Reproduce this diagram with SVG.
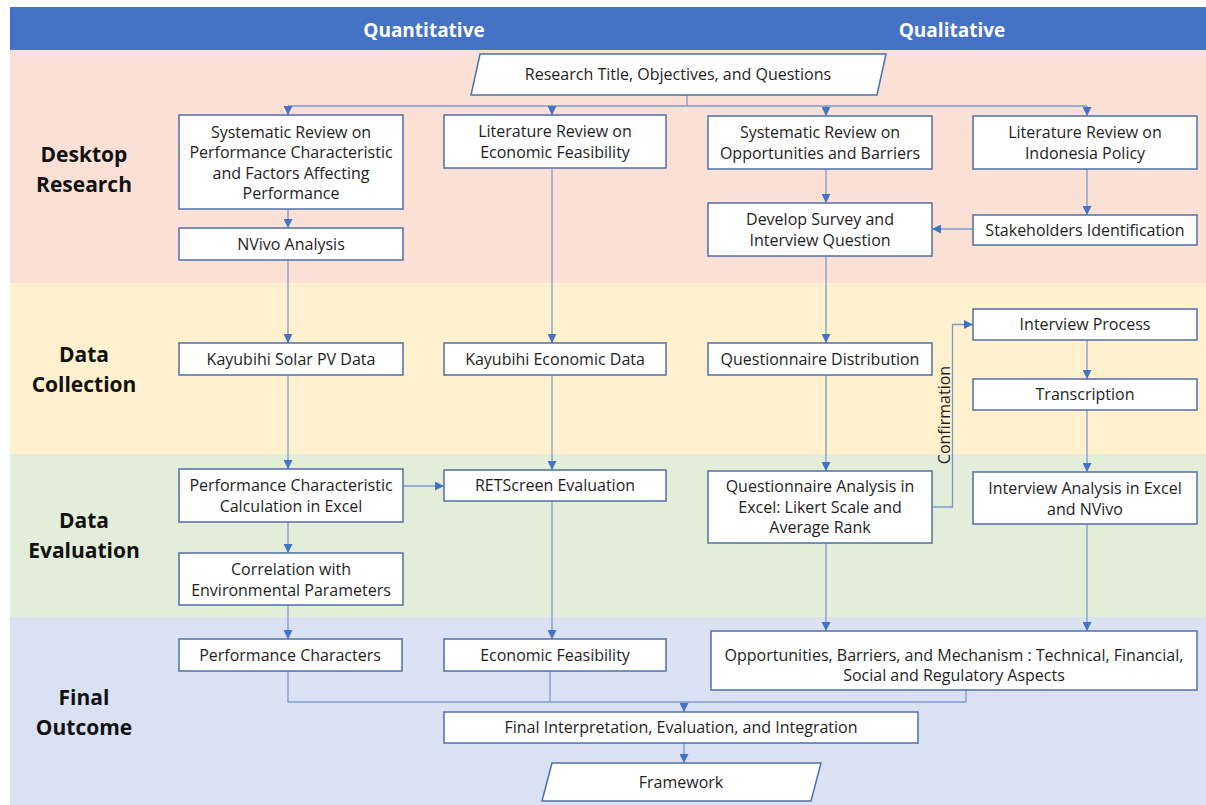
<svg xmlns="http://www.w3.org/2000/svg" width="1206" height="805" viewBox="0 0 1206 805">
  <style>
    .box { fill: #ffffff; stroke: #4f6fa9; stroke-width: 1.5; }
    .t { font-family: "Open Sans", "Noto Sans", sans-serif; font-size: 16px; fill: #1e1e1e; text-anchor: middle; }
    .hdr { font-family: "Open Sans", "Noto Sans", sans-serif; font-size: 19px; font-weight: bold; fill: #ffffff; text-anchor: middle; }
    .lbl { font-family: "Open Sans", "Noto Sans", sans-serif; font-size: 21px; font-weight: bold; fill: #111111; text-anchor: middle; }
    .ln { fill: none; stroke: #7d99cc; stroke-width: 1.3; }
    .arr { marker-end: url(#ah); }
  </style>
  <defs>
    <marker id="ah" viewBox="0 0 8 8" refX="8" refY="4" markerWidth="9" markerHeight="9" orient="auto" markerUnits="userSpaceOnUse">
      <path d="M0,0 L8,4 L0,8 z" fill="#4472c4"/>
    </marker>
  </defs>

  <!-- background bands -->
  <g id="bands">
    <rect x="0" y="0" width="1206" height="805" fill="#ffffff"/>
    <rect x="10" y="50" width="1196" height="233" fill="#fbe1d5"/>
    <rect x="10" y="283" width="1196" height="171" fill="#fff1cd"/>
    <rect x="10" y="454" width="1196" height="163" fill="#e2eed9"/>
    <rect x="10" y="617" width="1196" height="188" fill="#d9e1f3"/>
    <rect x="10" y="7" width="1196" height="43" fill="#4472c4"/>
    <text class="hdr" x="424" y="37">Quantitative</text>
    <text class="hdr" x="952" y="37">Qualitative</text>
  </g>

  <!-- stage labels -->
  <g id="labels">
    <text class="lbl" x="84" y="162">Desktop</text>
    <text class="lbl" x="84" y="192">Research</text>
    <text class="lbl" x="84" y="362">Data</text>
    <text class="lbl" x="84" y="392">Collection</text>
    <text class="lbl" x="84" y="528">Data</text>
    <text class="lbl" x="84" y="558">Evaluation</text>
    <text class="lbl" x="84" y="705">Final</text>
    <text class="lbl" x="84" y="735">Outcome</text>
  </g>

  <!-- connectors -->
  <g id="connectors">
    <path class="ln" d="M687,95 V106 M288,106 H1087"/>
    <path class="ln arr" d="M288,106 V115"/>
    <path class="ln arr" d="M552,106 V115"/>
    <path class="ln arr" d="M826,106 V116"/>
    <path class="ln arr" d="M1087,106 V116"/>
    <path class="ln arr" d="M288,209 V228"/>
    <path class="ln arr" d="M826,169 V203"/>
    <path class="ln arr" d="M1087,169 V215"/>
    <path class="ln arr" d="M973,229 H932"/>
    <path class="ln arr" d="M288,260 V343"/>
    <path class="ln arr" d="M552,168 V343"/>
    <path class="ln arr" d="M826,256 V343"/>
    <path class="ln arr" d="M1087,340 V379"/>
    <path class="ln arr" d="M288,375 V469"/>
    <path class="ln arr" d="M552,375 V470"/>
    <path class="ln arr" d="M826,375 V471"/>
    <path class="ln arr" d="M1087,410 V472"/>
    <path class="ln arr" d="M403,486 H444"/>
    <path class="ln arr" d="M932,507 H952.5 V324.5 H973"/>
    <text class="t" transform="translate(950,415) rotate(-90)" x="0" y="0">Confirmation</text>
    <path class="ln arr" d="M288,522 V553"/>
    <path class="ln arr" d="M288,605 V639"/>
    <path class="ln arr" d="M552,501 V639"/>
    <path class="ln arr" d="M826,543 V631"/>
    <path class="ln arr" d="M1087,524 V631"/>
    <path class="ln" d="M288,671 V702 H966 V690 M550,671 V702"/>
    <path class="ln arr" d="M684,702 V712"/>
    <path class="ln arr" d="M684,743 V763"/>
  </g>

  <!-- nodes -->
  <g id="n-title">
    <polygon class="box" points="480,54 886,54 877,95 471,95"/>
    <text class="t" x="678" y="80">Research Title, Objectives, and Questions</text>
  </g>
  <g id="n-sr-performance">
    <rect class="box" x="179" y="115" width="224" height="94"/>
    <text class="t" x="291" y="138">Systematic Review on</text>
    <text class="t" x="291" y="158">Performance Characteristic</text>
    <text class="t" x="291" y="179">and Factors Affecting</text>
    <text class="t" x="291" y="199">Performance</text>
  </g>
  <g id="n-lr-economic">
    <rect class="box" x="444" y="115" width="222" height="53"/>
    <text class="t" x="555" y="137">Literature Review on</text>
    <text class="t" x="555" y="158">Economic Feasibility</text>
  </g>
  <g id="n-sr-opportunities">
    <rect class="box" x="708" y="116" width="224" height="53"/>
    <text class="t" x="820" y="138">Systematic Review on</text>
    <text class="t" x="820" y="159">Opportunities and Barriers</text>
  </g>
  <g id="n-lr-policy">
    <rect class="box" x="973" y="116" width="224" height="53"/>
    <text class="t" x="1085" y="138">Literature Review on</text>
    <text class="t" x="1085" y="159">Indonesia Policy</text>
  </g>
  <g id="n-nvivo">
    <rect class="box" x="179" y="228" width="224" height="32"/>
    <text class="t" x="291" y="250">NVivo Analysis</text>
  </g>
  <g id="n-develop">
    <rect class="box" x="708" y="203" width="224" height="53"/>
    <text class="t" x="820" y="225">Develop Survey and</text>
    <text class="t" x="820" y="246">Interview Question</text>
  </g>
  <g id="n-stakeholders">
    <rect class="box" x="973" y="215" width="224" height="30"/>
    <text class="t" x="1085" y="236">Stakeholders Identification</text>
  </g>
  <g id="n-pv-data">
    <rect class="box" x="179" y="343" width="224" height="32"/>
    <text class="t" x="291" y="365">Kayubihi Solar PV Data</text>
  </g>
  <g id="n-econ-data">
    <rect class="box" x="444" y="343" width="222" height="32"/>
    <text class="t" x="555" y="365">Kayubihi Economic Data</text>
  </g>
  <g id="n-q-dist">
    <rect class="box" x="708" y="343" width="224" height="32"/>
    <text class="t" x="820" y="365">Questionnaire Distribution</text>
  </g>
  <g id="n-interview">
    <rect class="box" x="973" y="309" width="224" height="31"/>
    <text class="t" x="1085" y="330">Interview Process</text>
  </g>
  <g id="n-transcription">
    <rect class="box" x="973" y="379" width="224" height="31"/>
    <text class="t" x="1085" y="400">Transcription</text>
  </g>
  <g id="n-pc-calc">
    <rect class="box" x="179" y="469" width="224" height="53"/>
    <text class="t" x="291" y="491">Performance Characteristic</text>
    <text class="t" x="291" y="512">Calculation in Excel</text>
  </g>
  <g id="n-retscreen">
    <rect class="box" x="444" y="470" width="222" height="31"/>
    <text class="t" x="555" y="491">RETScreen Evaluation</text>
  </g>
  <g id="n-q-analysis">
    <rect class="box" x="708" y="471" width="224" height="72"/>
    <text class="t" x="820" y="492">Questionnaire Analysis in</text>
    <text class="t" x="820" y="513">Excel: Likert Scale and</text>
    <text class="t" x="820" y="533">Average Rank</text>
  </g>
  <g id="n-i-analysis">
    <rect class="box" x="973" y="472" width="224" height="52"/>
    <text class="t" x="1085" y="494">Interview Analysis in Excel</text>
    <text class="t" x="1085" y="515">and NVivo</text>
  </g>
  <g id="n-correlation">
    <rect class="box" x="179" y="553" width="224" height="52"/>
    <text class="t" x="291" y="575">Correlation with</text>
    <text class="t" x="291" y="596">Environmental Parameters</text>
  </g>
  <g id="n-perf-chars">
    <rect class="box" x="179" y="639" width="223" height="32"/>
    <text class="t" x="290" y="661">Performance Characters</text>
  </g>
  <g id="n-econ-feas">
    <rect class="box" x="444" y="639" width="222" height="32"/>
    <text class="t" x="555" y="661">Economic Feasibility</text>
  </g>
  <g id="n-opportunities">
    <rect class="box" x="711" y="631" width="486" height="59"/>
    <text class="t" x="954" y="661">Opportunities, Barriers, and Mechanism : Technical, Financial,</text>
    <text class="t" x="954" y="681">Social and Regulatory Aspects</text>
  </g>
  <g id="n-final">
    <rect class="box" x="444" y="712" width="474" height="31"/>
    <text class="t" x="681" y="733">Final Interpretation, Evaluation, and Integration</text>
  </g>
  <g id="n-framework">
    <polygon class="box" points="552,763 821,763 811,801 542,801"/>
    <text class="t" x="681" y="788">Framework</text>
  </g>
</svg>
